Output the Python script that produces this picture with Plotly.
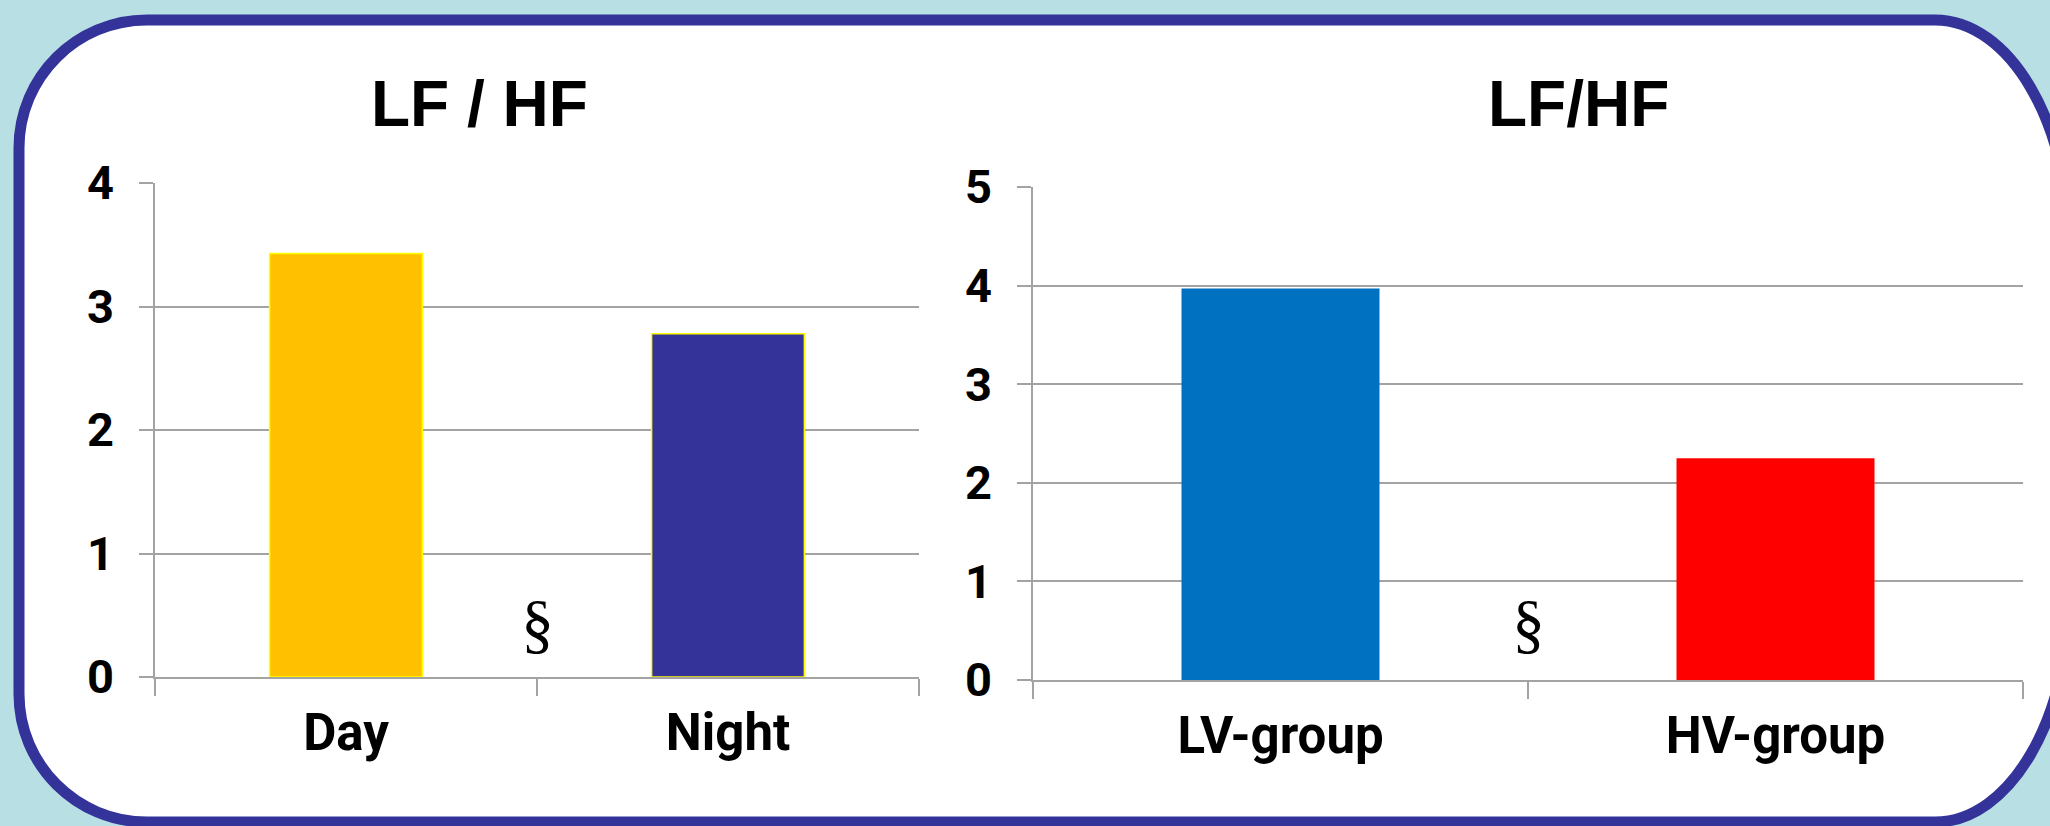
import plotly.graph_objects as go

W, H = 2050, 826

# ---- data ----
left_categories = ["Day", "Night"]
left_values = [3.43, 2.78]
left_colors = ["#FFC000", "#333399"]
left_title = "LF / HF"
left_yticks = [0, 1, 2, 3, 4]

right_categories = ["LV-group", "HV-group"]
right_values = [3.97, 2.25]
right_colors = ["#0070C0", "#FF0000"]
right_title = "LF/HF"
right_yticks = [0, 1, 2, 3, 4, 5]

sig_mark = "§"


def px(x):
    return x / W


def py(y):
    return 1 - y / H


GRID = "#A3A3A3"
LABEL = "Roboto, Liberation Sans, Arial, sans-serif"
SANS = "Liberation Sans, Arial, sans-serif"
SERIF = "Liberation Serif, Times New Roman, serif"

fig = go.Figure()
fig.add_trace(go.Bar(
    x=left_categories, y=left_values,
    marker=dict(color=left_colors, line=dict(color="#FFFF00", width=1.5)),
    xaxis="x", yaxis="y", showlegend=False, hoverinfo="skip"))
fig.add_trace(go.Bar(
    x=right_categories, y=right_values,
    marker=dict(color=right_colors, line=dict(width=0)),
    xaxis="x2", yaxis="y2", showlegend=False, hoverinfo="skip"))

xcommon = dict(type="category", tickson="boundaries", ticks="outside", ticklen=17,
               tickcolor=GRID, tickwidth=1.5, showline=True, linecolor=GRID, linewidth=1.5,
               showgrid=False, zeroline=False, fixedrange=True, automargin=False,
               tickfont=dict(family=LABEL, size=51, color="black", weight="bold"),
               ticklabelstandoff=10)
ycommon = dict(ticks="outside", ticklen=14, tickcolor=GRID, tickwidth=1.5,
               showline=True, linecolor=GRID, linewidth=1.5,
               showgrid=True, gridcolor=GRID, gridwidth=1.5, zeroline=False,
               fixedrange=True, tickmode="array", automargin=False,
               tickfont=dict(family=LABEL, size=47, color="black", weight="bold"),
               ticklabelstandoff=16)

frame_l, frame_t, frame_r, frame_b = 19, 20, 2070, 822
rl = 128
rrx, rry = 135, 230
k = 0.5523


def P(x, y):
    return f"{px(x):.6f},{py(y):.6f}"


path = (
    f"M {P(frame_l + rl, frame_t)} "
    f"L {P(frame_r - rrx, frame_t)} "
    f"C {P(frame_r - rrx + rrx * k, frame_t)} {P(frame_r, frame_t + rry - rry * k)} {P(frame_r, frame_t + rry)} "
    f"L {P(frame_r, frame_b - rry)} "
    f"C {P(frame_r, frame_b - rry + rry * k)} {P(frame_r - rrx + rrx * k, frame_b)} {P(frame_r - rrx, frame_b)} "
    f"L {P(frame_l + rl, frame_b)} "
    f"C {P(frame_l + rl - rl * k, frame_b)} {P(frame_l, frame_b - rl + rl * k)} {P(frame_l, frame_b - rl)} "
    f"L {P(frame_l, frame_t + rl)} "
    f"C {P(frame_l, frame_t + rl - rl * k)} {P(frame_l + rl - rl * k, frame_t)} {P(frame_l + rl, frame_t)} Z"
)

fig.update_layout(
    width=W, height=H,
    margin=dict(l=0, r=0, t=0, b=0, autoexpand=False),
    paper_bgcolor="#B8DFE3",
    plot_bgcolor="rgba(0,0,0,0)",
    bargap=0.6,
    showlegend=False,
    xaxis=dict(domain=[px(155), px(919)], anchor="y", **xcommon),
    yaxis=dict(domain=[py(677), py(183)], anchor="x", range=[0, 4], tickvals=left_yticks, **ycommon),
    xaxis2=dict(domain=[px(1033), px(2023)], anchor="y2", **xcommon),
    yaxis2=dict(domain=[py(680), py(187)], anchor="x2", range=[0, 5], tickvals=right_yticks, **ycommon),
    shapes=[dict(type="path", path=path, xref="paper", yref="paper", layer="below",
                 fillcolor="white", line=dict(color="#333399", width=11))],
    annotations=[
        dict(text=left_title, x=px(479), y=py(104), xref="paper", yref="paper",
             xanchor="center", yanchor="middle", showarrow=False,
             font=dict(family=SANS, size=64, color="black", weight="bold")),
        dict(text=right_title, x=px(1578), y=py(104), xref="paper", yref="paper",
             xanchor="center", yanchor="middle", showarrow=False,
             font=dict(family=SANS, size=64, color="black", weight="bold")),
        dict(text=sig_mark, x=0.5, y=0.43, xref="x", yref="y",
             xanchor="center", yanchor="middle", showarrow=False,
             font=dict(family=SERIF, size=66, color="black")),
        dict(text=sig_mark, x=0.5, y=0.57, xref="x2", yref="y2",
             xanchor="center", yanchor="middle", showarrow=False,
             font=dict(family=SERIF, size=66, color="black")),
    ],
)

fig.write_html("out.html", config=dict(displayModeBar=False))
